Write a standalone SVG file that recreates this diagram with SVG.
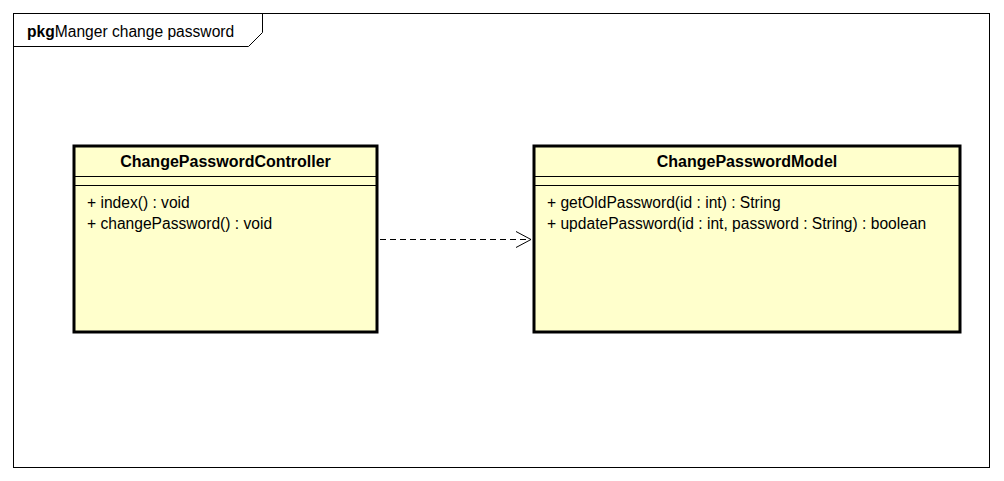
<svg xmlns="http://www.w3.org/2000/svg" width="1004" height="481" viewBox="0 0 1004 481">
<style>
.frame{fill:#ffffff;stroke:#000;stroke-width:1}
.cls{fill:#ffffcc;stroke:#000;stroke-width:3}
.sep{stroke:#000;stroke-width:1}
.t{font-family:"Liberation Sans",Arial,sans-serif;font-size:15.6px;fill:#000}
.b{font-weight:bold}
.h{font-size:16px}
.conn{fill:none;stroke:#000;stroke-width:1}
</style>
<defs>
<marker id="open" markerWidth="18" markerHeight="18" refX="16" refY="9" orient="auto" markerUnits="userSpaceOnUse">
<path d="M1,1 L16,9 L1,17" fill="none" stroke="#000" stroke-width="1"/>
</marker>
</defs>
<rect width="1004" height="481" fill="#fff"/>
<g id="package">
<rect class="frame" x="13.5" y="13.5" width="976" height="454"/>
<path class="conn" d="M13.5,46.5 H248.5 L262.5,32.5 V13.5"/>
<text class="t" x="27" y="37"><tspan class="b">pkg</tspan>Manger change password</text>
</g>
<g id="ChangePasswordController">
<rect class="cls" x="74" y="146" width="303" height="186"/>
<line class="sep" x1="75" y1="176.5" x2="376" y2="176.5"/>
<line class="sep" x1="75" y1="185.5" x2="376" y2="185.5"/>
<text class="t b h" x="225.5" y="167" text-anchor="middle">ChangePasswordController</text>
<text class="t" x="87" y="208">+ index() : void</text>
<text class="t" x="87" y="229">+ changePassword() : void</text>
</g>
<g id="ChangePasswordModel">
<rect class="cls" x="534" y="146" width="426" height="186"/>
<line class="sep" x1="535" y1="176.5" x2="959" y2="176.5"/>
<line class="sep" x1="535" y1="185.5" x2="959" y2="185.5"/>
<text class="t b h" x="747" y="167" text-anchor="middle">ChangePasswordModel</text>
<text class="t" x="547" y="208">+ getOldPassword(id : int) : String</text>
<text class="t" x="547" y="229">+ updatePassword(id : int, password : String) : boolean</text>
</g>
<g id="connectors">
<line class="conn" x1="380" y1="239.5" x2="531" y2="239.5" stroke-dasharray="6,4" marker-end="url(#open)"/>
</g>
</svg>
